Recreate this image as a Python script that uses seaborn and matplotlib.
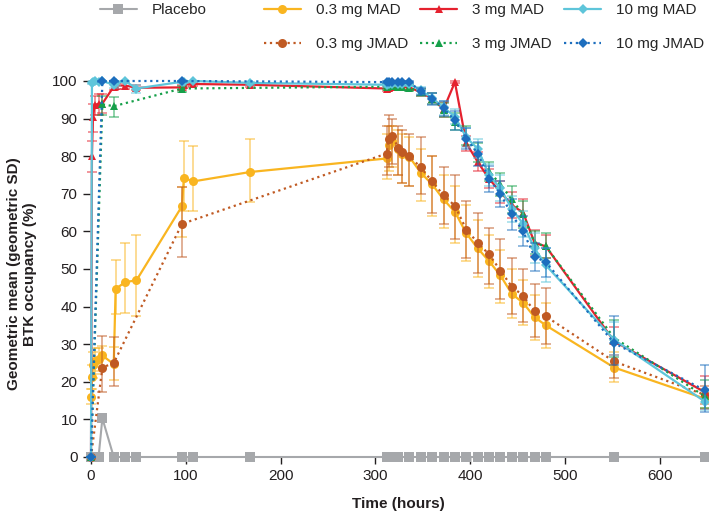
import matplotlib
matplotlib.use("Agg")
import matplotlib.pyplot as plt
import seaborn as sns
import pandas as pd
from matplotlib.lines import Line2D

# ---- data ----
t_pbo = [0, 8, 12, 24, 36, 48, 96, 108, 168, 312, 313, 314, 316, 318, 320, 324, 336,
         348, 360, 372, 384, 396, 408, 420, 432, 444, 456, 468, 480, 552, 648]
pbo = [0, 0, 10.3, 0, 0, 0, 0, 0, 0, 0, 0, 0, 0, 0, 0, 0, 0,
       0, 0, 0, 0, 0, 0, 0, 0, 0, 0, 0, 0, 0, 0]

t_mad = [0, 1, 2, 4, 8, 12, 24, 26, 36, 48, 96, 98, 108, 168, 312, 314, 318, 324, 328, 336,
         348, 360, 372, 384, 396, 408, 420, 432, 444, 456, 468, 480, 552, 648]
t_mad_low = [0.5, 1, 2, 4, 8, 12, 24, 26, 36, 48, 96, 98, 108, 168, 312, 314, 318, 324, 328, 336,
             348, 360, 372, 384, 396, 408, 420, 432, 444, 456, 468, 480, 552, 648]
t_jmad = [0, 12, 24, 96, 312, 314, 318, 324, 328, 336,
          348, 360, 372, 384, 396, 408, 420, 432, 444, 456, 468, 480, 552, 648]

# 0.3 mg MAD
mad03 = [16, 21.3, 24.5, 25.5, 26, 27, 24.7, 44.7, 46.5, 47, 66.7, 74.2, 73.3, 75.8, 79.4, 83, 84, 82, 80.5, 79.8,
         75.6, 72.5, 68.5, 65.2, 59.5, 55.5, 52.1, 48.3, 43.4, 41, 37.2, 35, 23.8, 15.5]
mad03_lo = [14, 18, 21, 22, 23, 24, 20.5, 38, 38.3, 37.5, 58.5, 65.5, 65.4, 67.8, 74, 76, 77, 75, 73, 72,
            68, 64, 61, 57, 52, 48, 45, 41, 37, 35, 31, 29, 20, 13]
mad03_hi = [18, 24.5, 28, 29, 29, 29.5, 29.2, 52.4, 56.8, 59, 71.7, 84, 82.7, 84.7, 86, 88, 88, 87, 86, 85,
            82, 80, 75, 72, 67, 63, 59, 55, 50, 47, 43, 41, 28, 18]

# 0.3 mg JMAD
jmad03 = [0, 23.8, 25, 62, 80.7, 84.5, 85.4, 82.3, 81, 80,
          77, 73.3, 69.6, 66.8, 60.5, 57, 53.9, 49.6, 45.3, 42.9, 38.7, 37.4, 25.4, 16.5]
jmad03_lo = [0, 17.2, 19, 53.2, 75, 77, 78, 75, 73, 72,
             70, 65, 62, 58, 53, 49, 46, 42, 38, 36, 32, 30, 21, 14]
jmad03_hi = [0, 32.3, 31.8, 71.8, 88, 91, 90, 88, 87, 86,
             85, 80, 77, 75, 68, 65, 61, 58, 53, 50, 46, 45, 30, 19]

# 3 mg MAD
mad3 = [0, 80, 90.5, 93.5, 94, 94, 98.5, 98.8, 98.8, 98.2, 98.3, 99, 99.2, 99, 98, 98.2, 98.4, 98.5, 98.5, 98.3,
        97, 95.3, 92.5, 99.7, 83.5, 78.5, 74, 70.5, 67, 65, 57, 56, 30.8, 17.2]
mad3_lo = [0, 75.7, 86.5, 91, 91, 91.5, 97.5, 98, 98, 97.5, 97.5, 98.5, 98.7, 98.5, 97.3, 97.5, 97.8, 97.8, 97.8, 97.5,
           96, 93.8, 90.5, 99.4, 81.5, 76, 71.5, 67.5, 63.5, 61.5, 53.5, 53, 27, 12.8]
mad3_hi = [0, 84, 94, 96, 96.5, 96.5, 99.3, 99.4, 99.4, 99, 99, 99.5, 99.6, 99.5, 98.6, 98.8, 99, 99.1, 99.1, 99,
           98, 96.8, 94.5, 100, 85.5, 81, 76.5, 73.5, 70.5, 68.5, 60.5, 59, 34.5, 21.5]

# 3 mg JMAD
jmad3 = [0, 93.8, 93.3, 98, 98.5, 98.6, 98.6, 98.5, 98.4, 98.2,
         97, 95.3, 92.3, 89.2, 85.5, 81, 76, 72.5, 68.5, 64.5, 57, 56, 31.7, 16.1]
jmad3_lo = [0, 91, 90.3, 97.2, 97.8, 97.9, 97.9, 97.8, 97.7, 97.4,
            96, 93.8, 90.5, 87, 83, 78.5, 73.5, 69.5, 65, 61, 54, 53, 26.5, 13]
jmad3_hi = [0, 96, 95.8, 98.7, 99.1, 99.2, 99.2, 99.1, 99, 98.9,
            98, 96.8, 94.2, 91.5, 88, 83.5, 78.5, 75.5, 72, 68, 60, 59.5, 36.5, 20.5]

# 10 mg MAD
mad10 = [0, 99.5, 99.8, 99.9, 99.8, 100, 99, 99.5, 100, 98, 99.8, 99.8, 100, 99.5, 99, 99.3, 99.3, 99.3, 99.2, 99.2,
         97.5, 95.5, 93, 90.5, 85, 82, 75, 71.5, 66, 62, 55.5, 51, 31.2, 14.7]
mad10_lo = [0, 99.2, 99.5, 99.6, 99.5, 99.8, 98.2, 98.8, 99.7, 96.8, 99.5, 99.5, 99.7, 99, 98.4, 98.8, 98.8, 98.8, 98.6, 98.6,
            96.6, 94, 91, 88.5, 82.5, 79.5, 72, 68, 62.5, 58.5, 51.5, 46.5, 27, 12.5]
mad10_hi = [0, 99.8, 100, 100, 100, 100, 99.6, 99.9, 100, 99, 100, 100, 100, 99.8, 99.5, 99.6, 99.6, 99.6, 99.6, 99.6,
            98.3, 96.8, 94.8, 92.5, 87.5, 84.5, 78, 75, 69.5, 65.5, 59.5, 55.5, 36, 17.5]

# 10 mg JMAD
jmad10 = [0, 100, 100, 100, 99.7, 99.8, 99.8, 99.8, 99.7, 99.7,
          97.3, 95.3, 92.8, 89.5, 84.7, 80.7, 74, 70, 64.5, 60, 53.3, 51.8, 30.3, 17.7]
jmad10_lo = [0, 99.8, 99.8, 99.8, 99.4, 99.5, 99.5, 99.5, 99.4, 99.4,
             96.3, 93.6, 90.7, 87, 82, 77.5, 70.5, 66.5, 60.5, 56, 49.5, 48, 24.5, 12]
jmad10_hi = [0, 100, 100, 100, 99.9, 99.9, 99.9, 99.9, 99.9, 99.9,
             98.2, 96.9, 94.7, 92, 87.5, 83.7, 77.5, 73.5, 68.5, 64, 57, 55.5, 37.5, 24.5]

x_ticks = [0, 100, 200, 300, 400, 500, 600]
y_ticks = [0, 10, 20, 30, 40, 50, 60, 70, 80, 90, 100]

# series styling: label, times, values, lo, hi, color, linestyle, marker, markersize
series = [
    ("0.3 mg MAD", t_mad_low, mad03, mad03_lo, mad03_hi, "#F9B520", "-", "o", 6.5),
    ("0.3 mg JMAD", t_jmad, jmad03, jmad03_lo, jmad03_hi, "#C05A23", ":", "o", 6.5),
    ("3 mg MAD", t_mad, mad3, mad3_lo, mad3_hi, "#E5212E", "-", "^", 6),
    ("3 mg JMAD", t_jmad, jmad3, jmad3_lo, jmad3_hi, "#16A04A", ":", "^", 6),
    ("10 mg MAD", t_mad, mad10, mad10_lo, mad10_hi, "#5EC5DA", "-", "D", 4.8),
    ("10 mg JMAD", t_jmad, jmad10, jmad10_lo, jmad10_hi, "#1D6EBE", ":", "D", 4.8),
]

sns.set_theme(style="white")
plt.rcParams['font.family'] = ['Liberation Sans', 'DejaVu Sans']

fig = plt.figure(figsize=(7.09, 5.18), dpi=100)
ax = fig.add_axes([90 / 709, 1 - 457 / 518, (707 - 90) / 709, (457 - 81) / 518])

# placebo
df_pbo = pd.DataFrame({"t": t_pbo, "v": pbo})
sns.lineplot(data=df_pbo, x="t", y="v", ax=ax, color="#A6A8AB", marker="s", markersize=6.5,
             markeredgewidth=0, linewidth=1.5, estimator=None, clip_on=False, legend=False)

for label, t, v, lo, hi, col, ls, mk, ms in series:
    yerr = [[a - b for a, b in zip(v, lo)], [b - a for a, b in zip(v, hi)]]
    ax.errorbar(t, v, yerr=yerr, fmt="none", ecolor=col, alpha=0.6, elinewidth=1.1,
                capsize=3.5, capthick=1.1, clip_on=False)
    df = pd.DataFrame({"t": t, "v": v})
    sns.lineplot(data=df, x="t", y="v", ax=ax, color=col, marker=mk, markersize=ms,
                 markeredgewidth=0, linestyle=ls, linewidth=1.6, estimator=None,
                 clip_on=False, legend=False)

ax.set_xlim(-1.05, 650)
ax.set_ylim(0, 100)
ax.set_xticks(x_ticks)
ax.set_yticks(y_ticks)
for s in ax.spines.values():
    s.set_visible(False)
ax.tick_params(axis="both", direction="out", length=5, width=1, color="#231F20",
               labelsize=11, labelcolor="#231F20", pad=4, bottom=True, left=True)
ax.set_xlabel("Time (hours)", fontsize=11, fontweight="bold", color="#231F20", labelpad=10)
ax.set_ylabel("")
fig.text(22 / 709, 1 - 274 / 518, "Geometric mean (geometric SD)\nBTK occupancy (%)",
         rotation=90, ha="center", va="center", multialignment="center",
         fontsize=11, fontweight="bold", color="#231F20", linespacing=1.25)

# legends
pbo_handle = [Line2D([], [], color="#A6A8AB", marker="s", markersize=6.5, markeredgewidth=0, linewidth=1.5)]
fig.legend(pbo_handle, ["Placebo"], loc="upper left", bbox_to_anchor=(100 / 709, 1 - 3 / 518),
           frameon=False, fontsize=11, handlelength=2.4, handletextpad=1.0, borderpad=0,
           borderaxespad=0, numpoints=1)
handles = [Line2D([], [], color=c, linestyle=ls, marker=mk, markersize=ms, markeredgewidth=0, linewidth=1.6)
           for _, _, _, _, _, c, ls, mk, ms in series]
labels = [s[0] for s in series]
fig.legend(handles, labels, loc="upper left", bbox_to_anchor=(264 / 709, 1 - 3 / 518), ncol=3,
           frameon=False, fontsize=11, handlelength=2.4, handletextpad=1.0, columnspacing=0.8,
           labelspacing=1.3, borderpad=0, borderaxespad=0, numpoints=1)

fig.savefig("out.png", dpi=100)
